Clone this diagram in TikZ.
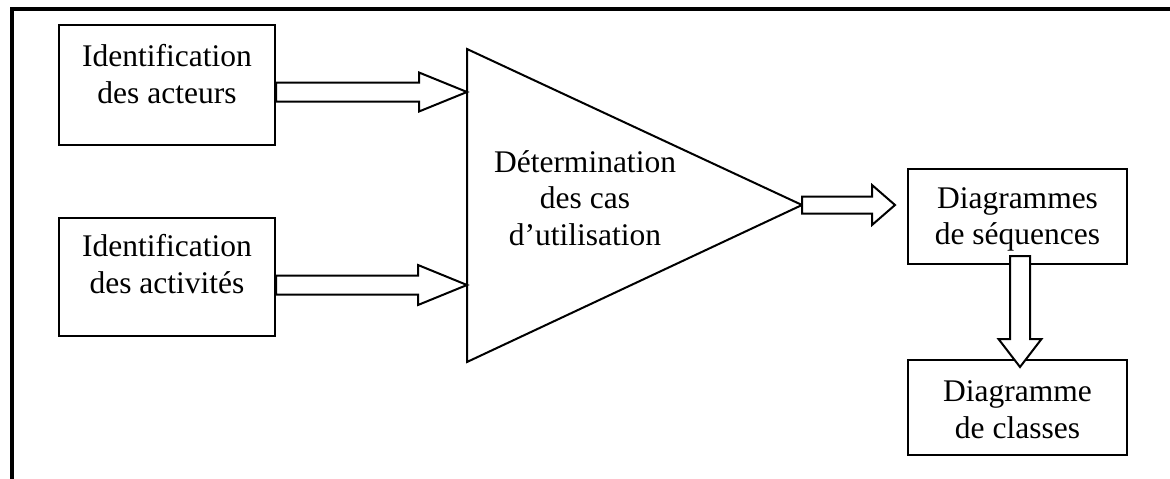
\documentclass[tikz,border=0pt]{standalone}
\usepackage{fontspec}
\setmainfont{Liberation Serif}
\usetikzlibrary{calc}
\newcommand\harr[5]{%
  \draw[blk] let \p1=(#1), \p2=(#2) in
    (\x1,\y1+#3) -- (\x2-#5,\y1+#3) -- (\x2-#5,\y1+#4) -- (\x2,\y1)
    -- (\x2-#5,\y1-#4) -- (\x2-#5,\y1-#3) -- (\x1,\y1-#3) -- cycle;}
\newcommand\varr[5]{%
  \draw[blk] let \p1=(#1), \p2=(#2) in
    (\x1-#3,\y1) -- (\x1-#3,\y2+#5) -- (\x1-#4,\y2+#5) -- (\x1,\y2)
    -- (\x1+#4,\y2+#5) -- (\x1+#3,\y2+#5) -- (\x1+#3,\y1) -- cycle;}
\begin{document}
\begin{tikzpicture}[x=1pt,y=-1pt,
  box/.style={draw,line width=2pt,rectangle,inner sep=0pt},
  txt/.style={inner sep=0pt,align=center,font=\fontsize{31.5pt}{36.8pt}\selectfont},
  blk/.style={draw,line width=2pt,fill=white,line join=miter}]
\useasboundingbox (0,0) rectangle (1170,479);
\fill[white] (0,0) rectangle (1170,479);
% outer frame (cropped)
\draw[line width=3.5pt,line join=miter] (12,481) -- (12,9) -- (1172,9);
% boxes
\node[box,minimum width=216pt,minimum height=120pt] (b1) at (167,85) {};
\node[box,minimum width=216pt,minimum height=118pt] (b2) at (167,277) {};
\node[box,minimum width=219pt,minimum height=95pt] (b3) at (1017.5,216.5) {};
\node[box,minimum width=219pt,minimum height=95pt] (b4) at (1017.5,407.5) {};
% triangle
\coordinate (triTop) at (467,49);
\coordinate (triBot) at (467,362);
\coordinate (triTip) at (802,205);
\draw[line width=2pt,line join=miter] (triTop) -- (triTip) -- (triBot) -- cycle;
% texts
\node[txt] (t1) at (167,74) {Identification\\des acteurs};
\node[txt] (t2) at (167,264.4) {Identification\\des activités};
\node[txt] (t3) at (585,198) {Détermination\\des cas\\d’utilisation};
\node[txt] (t4) at (1017.5,219.5) {Diagrammes\\de séquences};
\node[txt] (t5) at (1017.5,409.4) {Diagramme\\de classes};
% arrow end points
\coordinate (a1s) at ($(b1.east)+(0,7)$);
\coordinate (a1e) at (467,92);
\coordinate (a2s) at ($(b2.east)+(0,8)$);
\coordinate (a2e) at (467,285);
\coordinate (a3e) at ($(b3.west)+(-12,-11)$);
\coordinate (a4s) at ($(b3.south)+(2.5,-9)$);
\coordinate (a4e) at ($(b4.north)+(2.5,8)$);
% block arrows
\harr{a1s}{a1e}{9.5}{19.5}{48}
\harr{a2s}{a2e}{9.5}{20}{49}
\harr{triTip}{a3e}{8.5}{20}{23}
\varr{a4s}{a4e}{10}{21.5}{28}
\end{tikzpicture}
\end{document}
